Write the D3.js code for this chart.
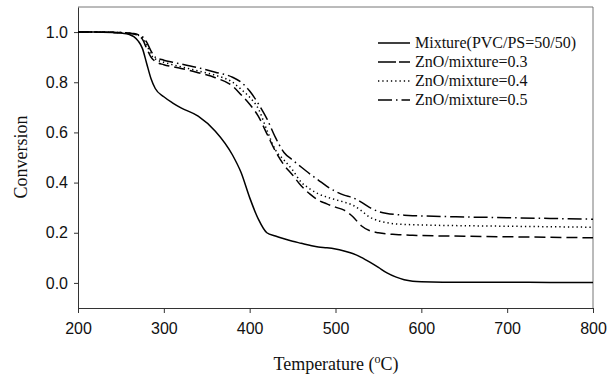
<!doctype html>
<html>
  <head>
    <script src="https://cdnjs.cloudflare.com/ajax/libs/d3/7.8.5/d3.min.js"></script>
    <style>
      body { margin: 0; background: #fff; }
      .tick text { font-family: "Liberation Sans", Arial, sans-serif; font-size: 16px; fill: #111; }
      .axis path, .axis line { stroke: #333; }
      .title, .legend text { font-family: "Liberation Serif", "Times New Roman", serif; fill: #111; }
      .series { fill: none; stroke: #000; stroke-width: 1.5px; }
    </style>
  </head>
  <body>
    <svg width="616" height="377"></svg>
    <script>
      var temps = [200, 220, 240, 250, 260, 265, 270, 275, 280, 285, 290, 300, 310, 320, 340, 360, 380, 390, 400,
                   410, 420, 430, 440, 450, 460, 470, 480, 490, 500, 510, 520, 530, 540, 550, 560, 570, 580, 590, 600,
                   650, 700, 750, 800];

      var mixture = [1.000, 1.000, 0.998, 0.996, 0.990, 0.982, 0.965, 0.935, 0.875, 0.815, 0.775, 0.742, 0.718, 0.698, 0.665, 0.605, 0.510, 0.440, 0.340,
                     0.255, 0.200, 0.187, 0.176, 0.166, 0.158, 0.150, 0.143, 0.140, 0.135, 0.127, 0.117, 0.102, 0.083, 0.062, 0.040, 0.024, 0.013, 0.007, 0.005,
                     0.003, 0.003, 0.002, 0.002];
      var zno03 = [1.000, 1.000, 0.999, 0.998, 0.995, 0.992, 0.986, 0.972, 0.935, 0.900, 0.883, 0.870, 0.862, 0.855, 0.838, 0.818, 0.785, 0.750, 0.712,
                   0.665, 0.595, 0.525, 0.470, 0.430, 0.387, 0.355, 0.330, 0.315, 0.302, 0.290, 0.265, 0.228, 0.208, 0.200, 0.195, 0.193, 0.191, 0.190, 0.189,
                   0.186, 0.184, 0.182, 0.180];
      var zno04 = [1.000, 1.000, 0.999, 0.998, 0.995, 0.993, 0.988, 0.978, 0.950, 0.910, 0.893, 0.880, 0.870, 0.862, 0.845, 0.828, 0.800, 0.772, 0.740,
                   0.695, 0.610, 0.530, 0.490, 0.450, 0.402, 0.375, 0.355, 0.342, 0.332, 0.322, 0.310, 0.288, 0.262, 0.248, 0.240, 0.235, 0.233, 0.232, 0.231,
                   0.228, 0.226, 0.224, 0.222];
      var zno05 = [1.000, 1.000, 0.999, 0.998, 0.996, 0.994, 0.990, 0.982, 0.960, 0.925, 0.900, 0.888, 0.880, 0.873, 0.858, 0.840, 0.820, 0.800, 0.765,
                   0.715, 0.655, 0.580, 0.520, 0.490, 0.462, 0.435, 0.410, 0.385, 0.365, 0.350, 0.340, 0.322, 0.300, 0.285, 0.277, 0.273, 0.270, 0.268, 0.267,
                   0.263, 0.260, 0.257, 0.254];

      var seriesNames = ["Mixture(PVC/PS=50/50)", "ZnO/mixture=0.3", "ZnO/mixture=0.4", "ZnO/mixture=0.5"];
      var seriesValues = [mixture, zno03, zno04, zno05];
      var dashes = ["none", "11,5", "1.3,3", "14,4,1.5,4"];

      var xTicks = [200, 300, 400, 500, 600, 700, 800];
      var yTicks = [0.0, 0.2, 0.4, 0.6, 0.8, 1.0];

      var svg = d3.select("svg");
      var plot = { left: 78, right: 593, top: 7, bottom: 308 };

      var x = d3.scaleLinear().domain([200, 800]).range([plot.left, plot.right]);
      var y = d3.scaleLinear().domain([-0.1, 1.1]).range([plot.bottom, plot.top]);

      // frame (top and right)
      svg.append("path")
        .attr("d", `M${plot.left},${plot.top}H${plot.right}V${plot.bottom}`)
        .attr("fill", "none")
        .attr("stroke", "#777")
        .attr("stroke-width", 1);

      svg.append("g")
        .attr("class", "axis")
        .attr("transform", `translate(0,${plot.bottom})`)
        .call(d3.axisBottom(x).tickValues(xTicks).tickSize(5).tickSizeOuter(0).tickPadding(10).tickFormat(d3.format("d")));

      svg.append("g")
        .attr("class", "axis")
        .attr("transform", `translate(${plot.left},0)`)
        .call(d3.axisLeft(y).tickValues(yTicks).tickSize(4).tickSizeOuter(0).tickPadding(6).tickFormat(d3.format(".1f")));

      var line = d3.line()
        .x((d, i) => x(temps[i]))
        .y(d => y(d))
        .curve(d3.curveMonotoneX);

      svg.selectAll("path.series")
        .data(seriesValues)
        .enter()
        .append("path")
          .attr("class", "series")
          .attr("d", line)
          .attr("stroke-dasharray", (d, i) => dashes[i]);

      // axis titles
      svg.append("text")
        .attr("class", "title")
        .attr("transform", "translate(27,157) rotate(-90)")
        .attr("text-anchor", "middle")
        .style("font-size", "18px")
        .text("Conversion");

      var xt = svg.append("text")
        .attr("class", "title")
        .attr("x", 336)
        .attr("y", 370)
        .attr("text-anchor", "middle")
        .style("font-size", "18px");
      xt.append("tspan").text("Temperature (");
      xt.append("tspan").attr("dy", -7).style("font-size", "12px").text("o");
      xt.append("tspan").attr("dy", 7).text("C)");

      // legend
      var legend = svg.append("g").attr("class", "legend");
      var rows = legend.selectAll("g")
        .data(seriesNames)
        .enter()
        .append("g")
          .attr("transform", (d, i) => `translate(378,${43 + i * 19})`);

      rows.append("line")
        .attr("class", "series")
        .attr("x1", 0).attr("x2", 32)
        .attr("y1", 0).attr("y2", 0)
        .attr("stroke-dasharray", (d, i) => i === 1 ? "18,3" : dashes[i]);

      rows.append("text")
        .attr("x", 37)
        .attr("y", 5)
        .style("font-size", "16px")
        .text(d => d);
    </script>
  </body>
</html>
